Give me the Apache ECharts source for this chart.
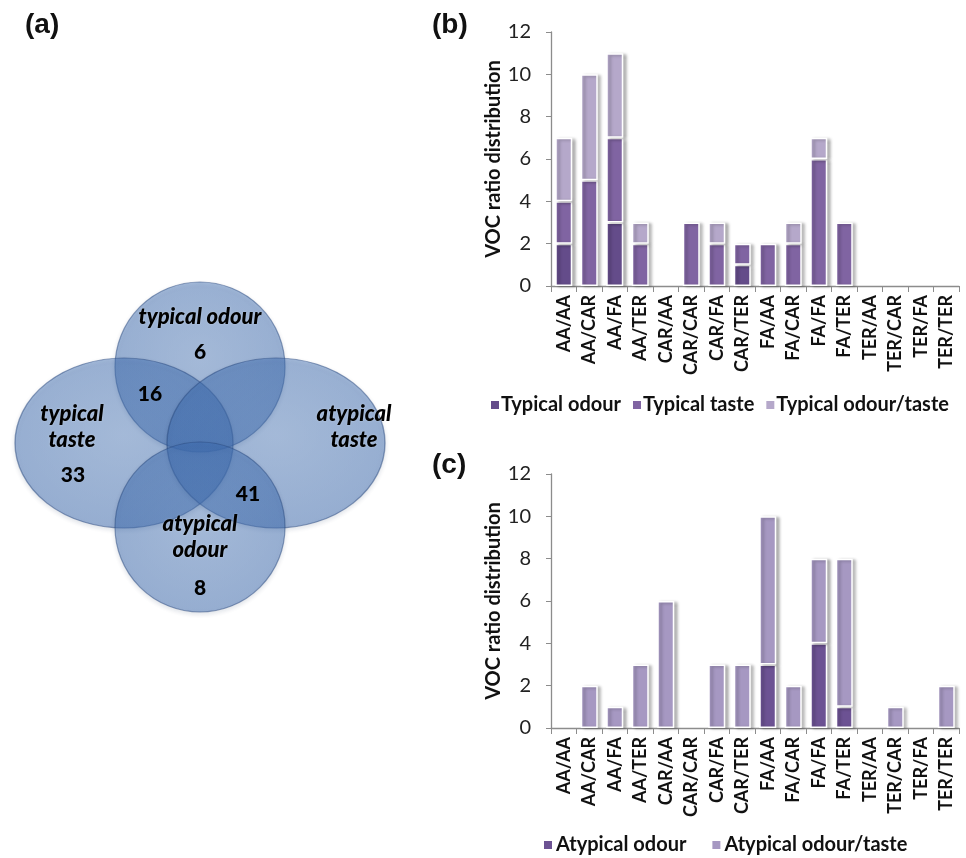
<!DOCTYPE html>
<html>
<head>
<meta charset="utf-8">
<script src="https://cdn.jsdelivr.net/npm/echarts@6/dist/echarts.min.js"></script>
<style>
  html, body { margin: 0; padding: 0; background: #fff; }
  #chart { width: 966px; height: 858px; }
</style>
</head>
<body>
<div id="chart"></div>
<script>
// VOC ratio categories shared by panels (b) and (c)
const categories = ['AA/AA', 'AA/CAR', 'AA/FA', 'AA/TER', 'CAR/AA', 'CAR/CAR', 'CAR/FA', 'CAR/TER',
                    'FA/AA', 'FA/CAR', 'FA/FA', 'FA/TER', 'TER/AA', 'TER/CAR', 'TER/FA', 'TER/TER'];

// Panel (b): typical samples
const typicalOdour      = [2, 0, 3, 0, 0, 0, 0, 1, 0, 0, 0, 0, 0, 0, 0, 0];
const typicalTaste      = [2, 5, 4, 2, 0, 3, 2, 1, 2, 2, 6, 3, 0, 0, 0, 0];
const typicalOdourTaste = [3, 5, 4, 1, 0, 0, 1, 0, 0, 1, 1, 0, 0, 0, 0, 0];

// Panel (c): atypical samples
const atypicalOdour      = [0, 0, 0, 0, 0, 0, 0, 0, 3, 0, 4, 1, 0, 0, 0, 0];
const atypicalOdourTaste = [0, 2, 1, 3, 6, 0, 3, 3, 7, 2, 4, 7, 0, 1, 0, 2];

// Y axis scale
const yTicks = [0, 2, 4, 6, 8, 10, 12];

// Panel (a): Venn diagram sets and counts
const vennSets = [
  { name: 'typical odour',  cx: 200, cy: 367, w: 170, h: 170 },
  { name: 'typical taste',  cx: 124, cy: 443, w: 218, h: 170 },
  { name: 'atypical taste', cx: 276, cy: 443, w: 218, h: 170 },
  { name: 'atypical odour', cx: 200, cy: 527, w: 170, h: 170 }
];
const vennSetLabels = [
  { text: 'typical odour',    x: 200, y: 317 },
  { text: 'typical\ntaste',   x: 72,  y: 427 },
  { text: 'atypical\ntaste',  x: 354, y: 427 },
  { text: 'atypical\nodour',  x: 200, y: 537 }
];
const vennCounts = [
  { value: 6,  x: 200, y: 352 },
  { value: 16, x: 150, y: 394 },
  { value: 33, x: 73,  y: 475 },
  { value: 41, x: 248, y: 494 },
  { value: 8,  x: 200, y: 588 }
];

const FONT = 'Lato, "Open Sans", sans-serif';
const barShadow = { shadowColor: 'rgba(0,0,0,0.28)', shadowBlur: 3, shadowOffsetX: 3, shadowOffsetY: 1 };

function barSeries(name, data, color, xIdx, yIdx, stack) {
  return {
    name, type: 'bar', stack, xAxisIndex: xIdx, yAxisIndex: yIdx,
    barWidth: 17,
    data: data.map(v => (v === 0 ? '-' : v)),
    itemStyle: Object.assign({ color, borderColor: '#fff', borderWidth: 1.5 }, barShadow),
    emphasis: { disabled: true }
  };
}

function valueAxis(gridIndex) {
  return {
    type: 'value', gridIndex, min: yTicks[0], max: yTicks[yTicks.length - 1], interval: 2,
    name: 'VOC ratio distribution', nameLocation: 'middle', nameGap: 46,
    nameTextStyle: { fontFamily: FONT, fontWeight: 'bold', fontSize: 20, color: '#111' },
    axisLine: { show: true, lineStyle: { color: '#8c8c8c', width: 1.3 } },
    axisTick: { show: true, length: 5, lineStyle: { color: '#8c8c8c' } },
    axisLabel: { fontFamily: FONT, fontSize: 20, color: '#222', margin: 20 },
    splitLine: { show: false }
  };
}

function categoryAxis(gridIndex) {
  return {
    type: 'category', gridIndex, data: categories, boundaryGap: true,
    axisLine: { show: true, lineStyle: { color: '#8c8c8c', width: 1.3 } },
    axisTick: { show: true, length: 6, alignWithLabel: false, lineStyle: { color: '#8c8c8c' } },
    axisLabel: { rotate: 90, interval: 0, fontFamily: FONT, fontWeight: 'bold', fontSize: 18, color: '#111', margin: 9 }
  };
}

const chart = echarts.init(document.getElementById('chart'));

const vennFill = new echarts.graphic.RadialGradient(0.5, 0.45, 0.7, [
  { offset: 0, color: 'rgba(70,118,185,0.42)' },
  { offset: 0.8, color: 'rgba(60,108,178,0.47)' },
  { offset: 1, color: 'rgba(45,88,155,0.55)' }
]);

const panelFont = 'bold 28px "Liberation Sans", Arial, sans-serif';

chart.setOption({
  animation: false,
  backgroundColor: '#fff',
  grid: [
    { left: 551, top: 32, right: 7, height: 254 },
    { left: 551, top: 474, right: 7, height: 254 },
    { left: 0, top: 0, width: 400, height: 858, show: false }
  ],
  xAxis: [
    categoryAxis(0),
    categoryAxis(1),
    { type: 'value', gridIndex: 2, min: 0, max: 400, show: false }
  ],
  yAxis: [
    valueAxis(0),
    valueAxis(1),
    { type: 'value', gridIndex: 2, min: 0, max: 858, inverse: true, show: false }
  ],
  legend: [
    {
      left: 484, top: 390, itemWidth: 10, itemHeight: 10, itemGap: 10, icon: 'rect',
      data: ['Typical odour', 'Typical taste', 'Typical odour/taste'],
      textStyle: { fontFamily: FONT, fontWeight: 'bold', fontSize: 20, color: '#111', padding: [0, 0, 0, -4] },
      selectedMode: false
    },
    {
      left: 537, top: 830, itemWidth: 10, itemHeight: 10, itemGap: 24, icon: 'rect',
      data: ['Atypical odour', 'Atypical odour/taste'],
      textStyle: { fontFamily: FONT, fontWeight: 'bold', fontSize: 20, color: '#111', padding: [0, 0, 0, -2] },
      selectedMode: false
    }
  ],
  graphic: [
    { type: 'text', left: 25, top: 11, style: { text: '(a)', font: panelFont, fill: '#111' } },
    { type: 'text', left: 432, top: 11, style: { text: '(b)', font: panelFont, fill: '#111' } },
    { type: 'text', left: 432, top: 451, style: { text: '(c)', font: panelFont, fill: '#111' } }
  ],
  series: [
    barSeries('Typical odour', typicalOdour, '#644c8a', 0, 0, 'b'),
    barSeries('Typical taste', typicalTaste, '#8064a2', 0, 0, 'b'),
    barSeries('Typical odour/taste', typicalOdourTaste, '#b5a8ca', 0, 0, 'b'),
    barSeries('Atypical odour', atypicalOdour, '#6c5293', 1, 1, 'c'),
    barSeries('Atypical odour/taste', atypicalOdourTaste, '#a698c2', 1, 1, 'c'),
    {
      type: 'scatter', xAxisIndex: 2, yAxisIndex: 2, silent: true, z: 1,
      data: vennSets.map(s => ({ name: s.name, value: [s.cx, s.cy], symbolSize: [s.w, s.h] })),
      symbol: 'circle',
      itemStyle: { color: vennFill, borderColor: 'rgba(40,72,125,0.5)', borderWidth: 1.2, opacity: 1,
                   shadowColor: 'rgba(30,50,90,0.25)', shadowBlur: 4, shadowOffsetY: 2 }
    },
    {
      type: 'scatter', xAxisIndex: 2, yAxisIndex: 2, silent: true, z: 3, symbolSize: 0,
      itemStyle: { opacity: 1 },
      data: vennSetLabels.map(l => ({ value: [l.x, l.y], name: l.text })),
      label: { show: true, position: 'inside', formatter: p => p.name,
               fontFamily: FONT, fontWeight: 900, fontStyle: 'italic', fontSize: 22, lineHeight: 26, color: '#000',
               textShadowColor: 'rgba(255,255,255,0.35)', textShadowBlur: 2 }
    },
    {
      type: 'scatter', xAxisIndex: 2, yAxisIndex: 2, silent: true, z: 3, symbolSize: 0,
      itemStyle: { opacity: 1 },
      data: vennCounts.map(c => ({ value: [c.x, c.y], name: String(c.value) })),
      label: { show: true, position: 'inside', formatter: p => p.name,
               fontFamily: FONT, fontWeight: 900, fontSize: 21, color: '#000' }
    }
  ]
});
</script>
</body>
</html>
